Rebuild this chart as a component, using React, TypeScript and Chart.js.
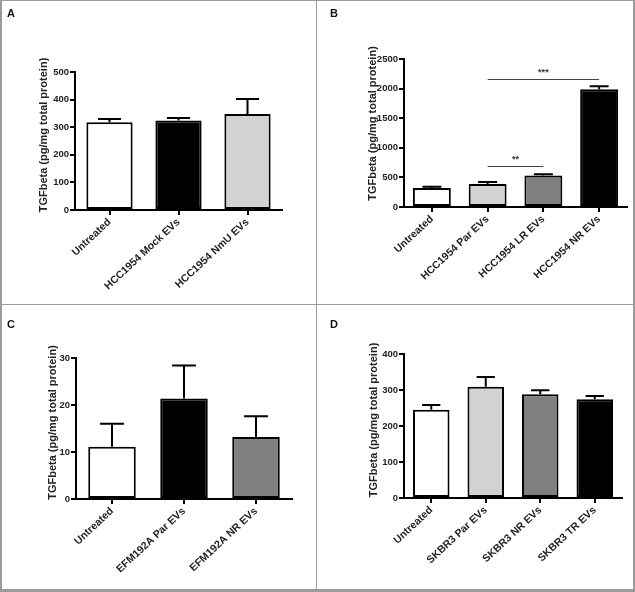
import React, { useEffect, useRef } from 'react';
import { Chart, registerables } from 'chart.js';

Chart.register(...registerables);

const FONT = '"Liberation Sans", Arial, sans-serif';
const WHITE = '#ffffff';
const BLACK = '#000000';
const LIGHT = '#d2d2d2';
const MID = '#808080';

// Panel A
const A_CATEGORIES = ['Untreated', 'HCC1954 Mock EVs', 'HCC1954 NmU EVs'];
const A_VALUES = [318, 324, 348];
const A_ERRORS = [12, 9, 54];
const A_COLORS = [WHITE, BLACK, LIGHT];
const A_YTICKS = [0, 100, 200, 300, 400, 500];

// Panel B
const B_CATEGORIES = ['Untreated', 'HCC1954 Par EVs', 'HCC1954 LR EVs', 'HCC1954 NR EVs'];
const B_VALUES = [322, 390, 530, 1990];
const B_ERRORS = [22, 32, 22, 50];
const B_COLORS = [WHITE, LIGHT, MID, BLACK];
const B_YTICKS = [0, 500, 1000, 1500, 2000, 2500];
const B_SIG_FROM = [1, 1];
const B_SIG_TO = [2, 3];
const B_SIG_VALUE = [690, 2166];
const B_SIG_LABEL = ['**', '***'];

// Panel C
const C_CATEGORIES = ['Untreated', 'EFM192A Par EVs', 'EFM192A NR EVs'];
const C_VALUES = [11.1, 21.4, 13.2];
const C_ERRORS = [4.9, 7.0, 4.4];
const C_COLORS = [WHITE, BLACK, MID];
const C_YTICKS = [0, 10, 20, 30];

// Panel D
const D_CATEGORIES = ['Untreated', 'SKBR3 Par EVs', 'SKBR3 NR EVs', 'SKBR3 TR EVs'];
const D_VALUES = [245, 309, 288, 274];
const D_ERRORS = [13, 27, 11, 9];
const D_COLORS = [WHITE, LIGHT, MID, BLACK];
const D_YTICKS = [0, 100, 200, 300, 400];

const Y_TITLE = 'TGFbeta (pg/mg total protein)';

const errorBarPlugin = {
  id: 'errorBars',
  afterDatasetsDraw(chart: any, _args: any, opts: any) {
    const errs: number[] = opts.errors;
    if (!errs) return;
    const meta = chart.getDatasetMeta(0);
    const ys = chart.scales.y;
    const ctx = chart.ctx;
    const data = chart.data.datasets[0].data as number[];
    ctx.save();
    ctx.strokeStyle = '#000';
    ctx.lineWidth = 2;
    meta.data.forEach((bar: any, i: number) => {
      const v = data[i];
      const base = ys.getPixelForValue(v);
      const top = ys.getPixelForValue(v + errs[i]);
      const half = (bar.width * opts.capRatio) / 2;
      ctx.beginPath();
      ctx.moveTo(bar.x, base);
      ctx.lineTo(bar.x, top);
      ctx.moveTo(bar.x - half, top);
      ctx.lineTo(bar.x + half, top);
      ctx.stroke();
    });
    ctx.restore();
  },
};

const sigPlugin = {
  id: 'sigBars',
  afterDatasetsDraw(chart: any, _args: any, opts: any) {
    const from: number[] = opts.from;
    if (!from) return;
    const xs = chart.scales.x;
    const ys = chart.scales.y;
    const ctx = chart.ctx;
    ctx.save();
    from.forEach((f: number, i: number) => {
      const x1 = xs.getPixelForValue(f);
      const x2 = xs.getPixelForValue(opts.to[i]);
      const y = Math.round(ys.getPixelForValue(opts.value[i])) + 0.5;
      ctx.strokeStyle = '#444';
      ctx.lineWidth = 1;
      ctx.beginPath();
      ctx.moveTo(x1, y);
      ctx.lineTo(x2, y);
      ctx.stroke();
      ctx.fillStyle = '#333';
      ctx.font = `bold 9px ${FONT}`;
      ctx.textAlign = 'center';
      ctx.textBaseline = 'alphabetic';
      ctx.fillText(opts.label[i], (x1 + x2) / 2, y - 5);
    });
    ctx.restore();
  },
};

const textPlugin = {
  id: 'panelText',
  afterDraw(chart: any, _args: any, opts: any) {
    const ctx = chart.ctx;
    ctx.save();
    ctx.fillStyle = '#111';
    ctx.font = `bold 11px ${FONT}`;
    ctx.textAlign = 'left';
    ctx.textBaseline = 'alphabetic';
    ctx.fillText(opts.letter, opts.letterX, opts.letterY);
    ctx.translate(opts.titleX, opts.titleY);
    ctx.rotate(-Math.PI / 2);
    ctx.fillStyle = '#222';
    ctx.textAlign = 'center';
    ctx.textBaseline = 'middle';
    ctx.fillText(Y_TITLE, 0, 0);
    ctx.restore();
  },
};

type Spec = {
  letter: string;
  left: number;
  top: number;
  width: number;
  height: number;
  area: { left: number; top: number; right: number; bottom: number };
  letterPos: [number, number];
  titlePos: [number, number];
  categories: string[];
  values: number[];
  errors: number[];
  colors: string[];
  yTicks: number[];
  barPct: number;
  sig?: { from: number[]; to: number[]; value: number[]; label: string[] };
};

const SPECS: Spec[] = [
  {
    letter: 'A', left: 3, top: 2, width: 313, height: 302,
    area: { left: 72, top: 70, right: 279, bottom: 208 },
    letterPos: [4, 14.5], titlePos: [41, 133],
    categories: A_CATEGORIES, values: A_VALUES, errors: A_ERRORS, colors: A_COLORS, yTicks: A_YTICKS,
    barPct: 0.67,
  },
  {
    letter: 'B', left: 317, top: 2, width: 316, height: 302,
    area: { left: 87, top: 57, right: 310, bottom: 205 },
    letterPos: [13, 14.5], titlePos: [55.5, 121.5],
    categories: B_CATEGORIES, values: B_VALUES, errors: B_ERRORS, colors: B_COLORS, yTicks: B_YTICKS,
    barPct: 0.68,
    sig: { from: B_SIG_FROM, to: B_SIG_TO, value: B_SIG_VALUE, label: B_SIG_LABEL },
  },
  {
    letter: 'C', left: 3, top: 305, width: 313, height: 284,
    area: { left: 73, top: 53, right: 289, bottom: 194 },
    letterPos: [4, 23], titlePos: [50, 117.5],
    categories: C_CATEGORIES, values: C_VALUES, errors: C_ERRORS, colors: C_COLORS, yTicks: C_YTICKS,
    barPct: 0.66,
  },
  {
    letter: 'D', left: 317, top: 305, width: 316, height: 284,
    area: { left: 87, top: 49, right: 305, bottom: 193 },
    letterPos: [13, 23], titlePos: [57, 115],
    categories: D_CATEGORIES, values: D_VALUES, errors: D_ERRORS, colors: D_COLORS, yTicks: D_YTICKS,
    barPct: 0.67,
  },
];

function Panel({ spec }: { spec: Spec }) {
  const ref = useRef<HTMLCanvasElement | null>(null);
  useEffect(() => {
    if (!ref.current) return;
    const s = spec;
    const chart = new Chart(ref.current, {
      type: 'bar',
      data: {
        labels: s.categories,
        datasets: [
          {
            data: s.values,
            backgroundColor: s.colors,
            borderColor: '#000',
            borderWidth: 2,
            borderSkipped: false,
            barPercentage: s.barPct,
            categoryPercentage: 1,
          },
        ],
      },
      options: {
        responsive: false,
        animation: false,
        devicePixelRatio: 1,
        layout: { padding: { left: 0, top: s.area.top, right: s.width - s.area.right, bottom: 0 } },
        plugins: {
          legend: { display: false },
          tooltip: { enabled: false },
          errorBars: { errors: s.errors, capRatio: 0.5 },
          sigBars: s.sig ? s.sig : {},
          panelText: {
            letter: s.letter,
            letterX: s.letterPos[0],
            letterY: s.letterPos[1],
            titleX: s.titlePos[0],
            titleY: s.titlePos[1],
          },
        } as any,
        scales: {
          x: {
            grid: { display: true, drawOnChartArea: false, drawTicks: true, tickLength: 5, offset: false, color: '#000', lineWidth: 2 },
            border: { display: true, color: '#000', width: 2 },
            ticks: {
              font: { family: FONT, size: 10.5, weight: 'bold' },
              color: '#222',
              minRotation: 43,
              maxRotation: 43,
              autoSkip: false,
              padding: 1,
            },
            afterFit: (sc: any) => {
              sc.height = s.height - s.area.bottom;
            },
          },
          y: {
            min: 0,
            max: s.yTicks[s.yTicks.length - 1],
            afterBuildTicks: (sc: any) => {
              sc.ticks = s.yTicks.map((v) => ({ value: v }));
            },
            grid: { display: true, drawOnChartArea: false, drawTicks: true, tickLength: 5, color: '#000', lineWidth: 2 },
            border: { display: true, color: '#000', width: 2 },
            ticks: {
              font: { family: FONT, size: 9.5, weight: 'bold' },
              color: '#222',
              padding: 1,
              callback: (v: any) => String(v),
            },
            afterFit: (sc: any) => {
              sc.width = s.area.left;
            },
          },
        } as any,
      },
      plugins: [errorBarPlugin, sigPlugin, textPlugin],
    });
    return () => chart.destroy();
  }, [spec]);
  return (
    <canvas
      ref={ref}
      width={spec.width}
      height={spec.height}
      style={{ position: 'absolute', left: spec.left, top: spec.top, width: spec.width, height: spec.height }}
    />
  );
}

const FRAME = '#9a9a9a';

export default function App() {
  const line = (l: number, t: number, w: number, h: number) => (
    <div style={{ position: 'absolute', left: l, top: t, width: w, height: h, background: FRAME }} />
  );
  return (
    <div style={{ position: 'absolute', left: 0, top: 0, width: 635, height: 592, background: '#fff', overflow: 'hidden' }}>
      {SPECS.map((s) => (
        <Panel key={s.letter} spec={s} />
      ))}
      {line(0, 0, 2, 592)}
      {line(0, 0, 635, 1)}
      {line(633, 0, 2, 592)}
      {line(0, 589, 635, 3)}
      {line(316, 0, 1, 592)}
      {line(0, 304, 635, 1)}
    </div>
  );
}
